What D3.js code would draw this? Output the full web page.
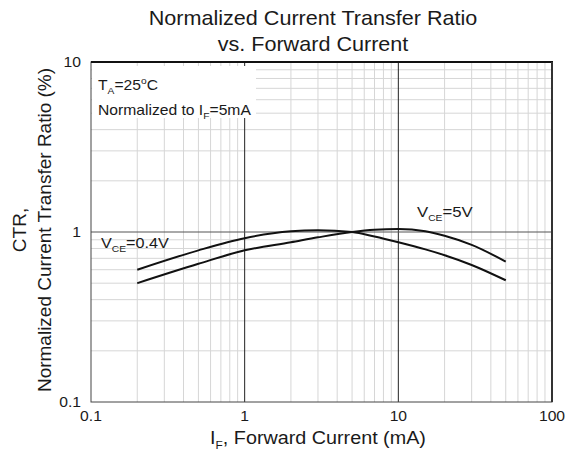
<!DOCTYPE html>
<html>
<head>
<meta charset="utf-8">
<script src="https://cdn.jsdelivr.net/npm/d3@7"></script>
<style>
  html, body { margin: 0; padding: 0; background: #fff; }
  svg { display: block; font-family: "Liberation Sans", Arial, sans-serif; }
</style>
</head>
<body>
<svg id="chart" width="565" height="453"></svg>
<script>
// ---- data ----
const current = [0.2, 0.5, 1, 2, 3, 5, 7, 10, 15, 20, 30, 50];
const ctr04V  = [0.60, 0.78, 0.92, 1.01, 1.025, 1.0, 0.94, 0.87, 0.79, 0.73, 0.64, 0.52];
const ctr5V   = [0.50, 0.65, 0.78, 0.87, 0.93, 1.0, 1.03, 1.04, 1.01, 0.95, 0.84, 0.67];
const xTickLabels = ["0.1", "1", "10", "100"];
const yTickLabels = ["0.1", "1", "10"];
const title = ["Normalized Current Transfer Ratio", "vs. Forward Current"];

// ---- layout ----
const svg = d3.select("#chart");
const L = 91, R = 552, T = 62, B = 402;
const SX = 1.08; // horizontal stretch of text in the reference
const x = d3.scaleLog().domain([0.1, 100]).range([L, R]);
const y = d3.scaleLog().domain([0.1, 10]).range([B, T]);

const xMinor = [], yMinor = [];
[0.1, 1, 10].forEach(d => { for (let k = 2; k <= 9; k++) xMinor.push(d * k); });
[0.1, 1].forEach(d => { for (let k = 2; k <= 9; k++) yMinor.push(d * k); });

const g = svg.append("g");

// minor grid
g.selectAll("line.mx").data(xMinor).enter().append("line")
  .attr("x1", d => x(d)).attr("x2", d => x(d)).attr("y1", T).attr("y2", B)
  .attr("stroke", "#d6d6d6").attr("stroke-width", 1);
g.selectAll("line.my").data(yMinor).enter().append("line")
  .attr("y1", d => y(d)).attr("y2", d => y(d)).attr("x1", L).attr("x2", R)
  .attr("stroke", "#d6d6d6").attr("stroke-width", 1);

// major grid
g.selectAll("line.Mx").data([1, 10]).enter().append("line")
  .attr("x1", d => x(d)).attr("x2", d => x(d)).attr("y1", T).attr("y2", B)
  .attr("stroke", "#222").attr("stroke-width", 1);
g.append("line").attr("x1", L).attr("x2", R).attr("y1", y(1)).attr("y2", y(1))
  .attr("stroke", "#555").attr("stroke-width", 1.2);

// white annotation box
g.append("rect").attr("x", L + 1).attr("y", T + 4).attr("width", 164).attr("height", 52).attr("fill", "#fff");

// frame
g.append("rect").attr("x", L).attr("y", T).attr("width", R - L).attr("height", B - T)
  .attr("fill", "none").attr("stroke", "#444").attr("stroke-width", 1);
g.append("line").attr("x1", L).attr("x2", R + 1).attr("y1", T).attr("y2", T).attr("stroke", "#111").attr("stroke-width", 2);
g.append("line").attr("x1", R).attr("x2", R).attr("y1", T).attr("y2", B).attr("stroke", "#333").attr("stroke-width", 2);

// curves
const line = d3.line().x(d => x(d[0])).y(d => y(d[1])).curve(d3.curveMonotoneX);
[ctr04V, ctr5V].forEach(s => {
  g.append("path").datum(current.map((c, i) => [c, s[i]]))
    .attr("d", line).attr("fill", "none").attr("stroke", "#111").attr("stroke-width", 2);
});

// stretched text helper
function stext(xp, yp, size, anchor) {
  return svg.append("g").attr("transform", `translate(${xp},${yp}) scale(${SX},1)`)
    .append("text").attr("text-anchor", anchor || "start")
    .attr("font-size", size).attr("fill", "#1a1a1a");
}

// tick labels
xTickLabels.forEach(d => stext(x(+d), 421, 14.5, "middle").text(d));
yTickLabels.forEach(d => stext(81, y(+d) + 5, 14.5, "end").text(d));

// title
title.forEach((d, i) => stext(313, 25 + i * 26, 20, "middle").text(d));

// x axis title
const xt = stext(318, 444, 18.3, "middle");
xt.append("tspan").text("I");
xt.append("tspan").attr("font-size", 11).attr("dy", 5).text("F");
xt.append("tspan").attr("dy", -5).text(", Forward Current (mA)");

// y axis title
const yt = svg.append("g").attr("transform", "translate(0,230) rotate(-90)");
yt.append("text").attr("x", 0).attr("y", 26).attr("text-anchor", "middle")
  .attr("font-size", 19).attr("fill", "#1a1a1a").text("CTR,");
yt.append("text").attr("x", 0).attr("y", 51).attr("text-anchor", "middle")
  .attr("font-size", 19).attr("fill", "#1a1a1a").text("Normalized Current Transfer Ratio (%)");

// annotations
function subText(xp, yp, a, sub, b, size) {
  const t = stext(xp, yp, size || 14.5);
  t.append("tspan").text(a);
  t.append("tspan").attr("font-size", 9.5).attr("dy", 4).text(sub);
  t.append("tspan").attr("dy", -4).text(b);
  return t;
}
const ta = stext(98, 90, 14.5);
ta.append("tspan").text("T");
ta.append("tspan").attr("font-size", 9.5).attr("dy", 4).text("A");
ta.append("tspan").attr("dy", -4).text("=25");
ta.append("tspan").attr("font-size", 9.5).attr("dy", -6).text("o");
ta.append("tspan").attr("dy", 6).text("C");
subText(98, 115, "Normalized to I", "F", "=5mA");
subText(101, 248, "V", "CE", "=0.4V", 15);
subText(417, 217, "V", "CE", "=5V", 15.5);
</script>
</body>
</html>
